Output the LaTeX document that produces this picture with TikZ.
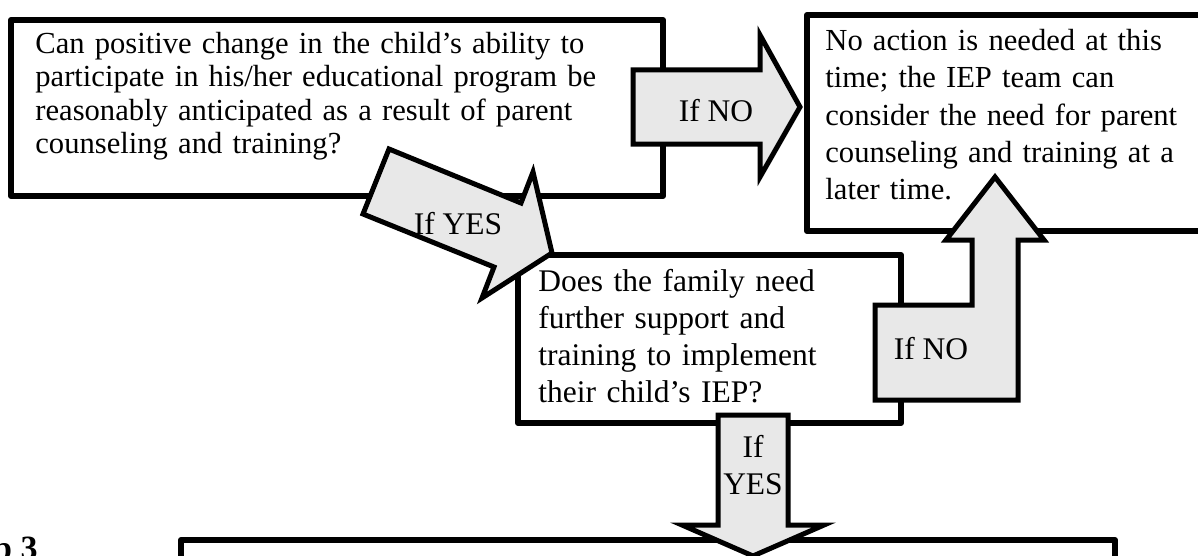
\documentclass[tikz,border=0pt]{standalone}
\usepackage{fontspec}
\setmainfont{Liberation Serif}
\usepackage{xcolor}
\usetikzlibrary{positioning,calc}
\definecolor{arrowgray}{RGB}{232,232,232}

\begin{document}
\begin{tikzpicture}[x=0.5pt, y=-0.5pt, font=\fontsize{15.75}{18.5}\selectfont,
    qbox/.style={draw, line width=3pt, fill=white, line join=round, inner sep=0pt, anchor=north west},
    qtext/.style={inner sep=0pt, align=left, text width=#1},
    blockarrow/.style={draw, line width=2.5pt, fill=arrowgray, line join=miter},
    lbl/.style={inner sep=0pt, align=center}]
        \useasboundingbox (0,0) rectangle (1198,556);
        \node[qbox, minimum width=326pt, minimum height=88pt] (question) at (8,17) {};
        \node[qtext=310pt, font=\fontsize{15.3}{16.6}\selectfont, below right=7.5pt and 13.5pt of question.north west] (questiontext) {Can positive change in the child’s ability to\\participate in his/her educational program be\\reasonably anticipated as a result of parent\\counseling and training?};
        \node[qbox, minimum width=201pt, minimum height=108pt] (noaction) at (804,12) {};
        \node[qtext=195pt, font=\fontsize{15.3}{18.6}\selectfont, below right=8.5pt and 10.5pt of noaction.north west] (noactiontext) {No action is needed at this\\time; the IEP team can\\consider the need for parent\\counseling and training at a\\later time.};
        \node[qbox, minimum width=191.5pt, minimum height=84pt] (support) at (515,252) {};
        \node[qtext=172pt, below right=8.5pt and 11.5pt of support.north west] (supporttext) {Does the family need\\further support and\\training to implement\\their child’s IEP?};
        \node[qbox, minimum width=467pt, minimum height=60pt] (nextstep) at (178,537) {};
        \node[font=\fontsize{17}{20}\selectfont\bfseries, anchor=north east, inner sep=0pt] (steplbl) at (38,537) {p 3};
        \draw[blockarrow] (633,70) -- (760,70) -- (760,35) -- (800,107) -- (760,177) -- (760,144) -- (633,144) -- cycle;
        \draw[blockarrow] (389,149) -- (521,203) -- (533,172) -- (552,253) -- (482,298) -- (494,267) -- (363,214) -- cycle;
        \draw[blockarrow] (875,305) -- (972,305) -- (972,240) -- (946,240) -- (995,177) -- (1044,240) -- (1018,240) -- (1018,400) -- (875,400) -- cycle;
        \draw[blockarrow] (718,415) -- (788,415) -- (788,525) -- (824,525) -- (753,556) -- (682,525) -- (718,525) -- cycle;
        \foreach \name/\x/\y/\txt in {ifno/716/111/If NO, ifyes/458/224/If YES, ifnolow/931/349/If NO, ifyeslow/753/465/If\\YES}{\node[lbl] (\name) at (\x,\y) {\txt};}
\end{tikzpicture}
\end{document}
